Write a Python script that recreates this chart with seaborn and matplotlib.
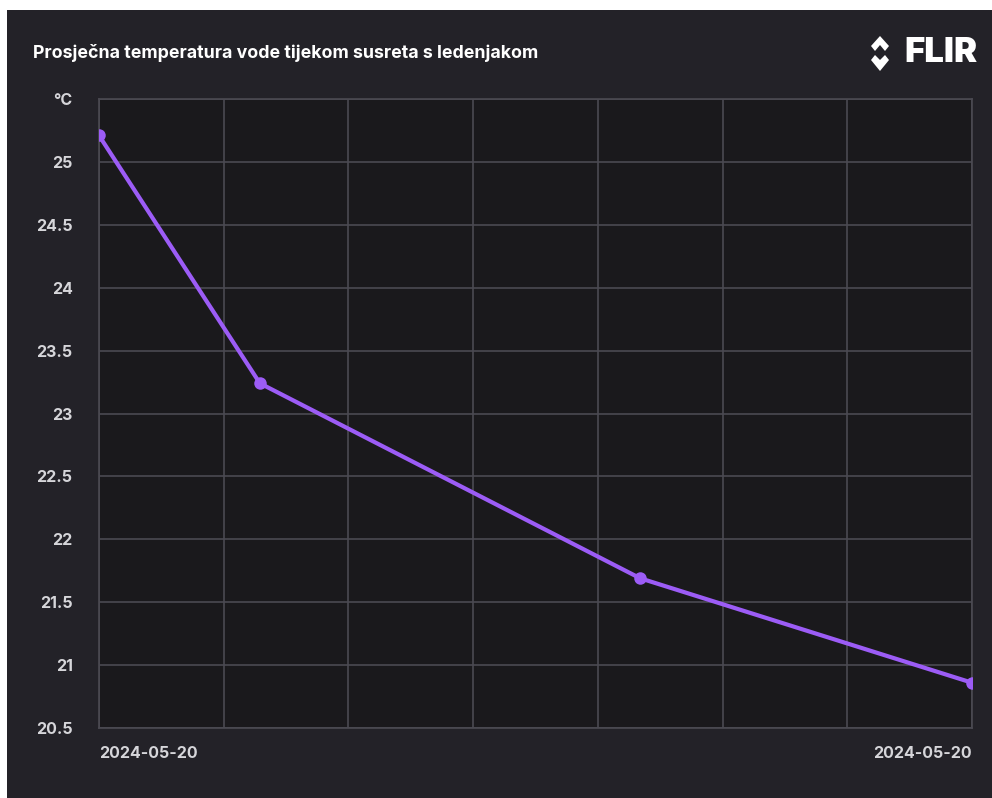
import matplotlib
matplotlib.use("Agg")
import matplotlib.pyplot as plt
from matplotlib.patches import Rectangle, Polygon
import pandas as pd
import seaborn as sns

minutes = [0, 6.45, 21.7, 35]
temperature = [25.21, 23.24, 21.69, 20.86]
y_ticks = [20.5, 21, 21.5, 22, 22.5, 23, 23.5, 24, 24.5, 25, 25.5]
y_labels = ["20.5", "21", "21.5", "22", "22.5", "23", "23.5", "24", "24.5", "25", "°C"]
x_ticks = [0, 5, 10, 15, 20, 25, 30, 35]
date_label = "2024-05-20"
title = "Prosječna temperatura vode tijekom susreta s ledenjakom"

panel = "#232228"
plot_bg = "#1a191c"
grid = "#4b4a52"
purple = "#9c5cf6"
text_col = "#d6d6da"

sns.set_style("dark")
plt.rcParams["font.family"] = ["Inter", "DejaVu Sans"]

fig = plt.figure(figsize=(9.92, 7.98), dpi=100)
fig.patch.set_facecolor("white")
fig.patches.append(Rectangle((7 / 992, 0), 1, 788 / 798, transform=fig.transFigure,
                             facecolor=panel, edgecolor="none", zorder=-10))

ax = fig.add_axes([99 / 992, 70 / 798, 873 / 992, 629 / 798])
ax.set_facecolor(plot_bg)

df = pd.DataFrame({"minute": minutes, "temp": temperature})
sns.lineplot(data=df, x="minute", y="temp", ax=ax, color=purple, linewidth=3,
             marker="o", markersize=9, markeredgewidth=0, zorder=5)

ax.set_xlim(0, 35)
ax.set_ylim(20.5, 25.5)
ax.set_yticks(y_ticks)
ax.set_yticklabels(y_labels)
ax.set_xticks(x_ticks)
ax.set_xticklabels([date_label] + [""] * 6 + [date_label])
xl = ax.get_xticklabels()
xl[0].set_ha("left")
xl[-1].set_ha("right")

ax.grid(True, color=grid, linewidth=1.2)
for s in ax.spines.values():
    s.set_color(grid)
    s.set_linewidth(1.2)
ax.tick_params(axis="y", length=9, width=1.2, color=grid, pad=10,
               labelsize=11.5, labelcolor=text_col)
ax.tick_params(axis="x", length=0, pad=13, labelsize=11.5, labelcolor=text_col)
for lab in ax.get_xticklabels() + ax.get_yticklabels():
    lab.set_fontweight("bold")
ax.set_xlabel("")
ax.set_ylabel("")

fig.text(33 / 992, 1 - 53 / 798, title, color="white", fontsize=12.8,
         fontweight="bold", va="center", ha="left")

# FLIR logo: wordmark plus two chevron shapes
fig.text(977 / 992, 1 - 53 / 798, "FLIR", color="white", fontsize=25,
         fontweight="black", va="center", ha="right")


def px(points):
    return [(x / 992, 1 - y / 798) for x, y in points]


fig.patches.append(Polygon(px([(871, 46), (880, 36), (889, 46), (885, 51),
                               (880, 45), (875, 51)]),
                           closed=True, transform=fig.transFigure,
                           facecolor="white", edgecolor="none"))
fig.patches.append(Polygon(px([(871, 60), (875, 55), (880, 60), (885, 55),
                               (889, 60), (880, 71)]),
                           closed=True, transform=fig.transFigure,
                           facecolor="white", edgecolor="none"))

fig.savefig("out.png", dpi=100, facecolor=fig.get_facecolor())
